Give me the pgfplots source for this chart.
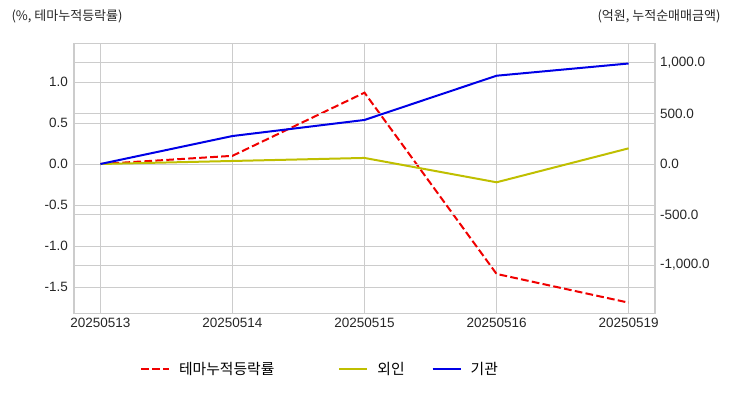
\documentclass[border=0pt]{standalone}
\usepackage{pgfplots}
\pgfplotsset{compat=1.18}
\usepackage{fontspec}
\setmainfont{Liberation Sans}
\newfontfamily\kr{Noto Sans CJK KR}
\definecolor{gridgray}{HTML}{CCCCCC}
\definecolor{myred}{HTML}{F00000}
\definecolor{myyellow}{HTML}{BFBF00}
\definecolor{myblue}{HTML}{0000E6}
\begin{document}
\begin{tikzpicture}
\useasboundingbox (0pt,0pt) rectangle (732pt,392pt);
\pgfplotsset{
  common/.style={
    at={(74pt,78.7pt)}, anchor=south west, scale only axis,
    width=581pt, height=269.6pt,
    xmin=-0.2, xmax=4.2,
    tick style={draw=none},
    major grid style={line width=1pt, color=gridgray},
    axis line style={color=gridgray, line width=1.5pt},
    tick label style={font=\fontsize{13.5}{16}\selectfont, color=black!85},
    /pgf/number format/assume math mode=true,
  }
}
\begin{axis}[common,
  ymin=-1.82, ymax=1.467,
  xtick={0,1,2,3,4},
  xticklabels={20250513,20250514,20250515,20250516,20250519},
  ytick={-1.5,-1.0,-0.5,0,0.5,1.0},
  grid=major,
  yticklabel style={inner sep=0pt, xshift=-6pt, /pgf/number format/.cd, fixed, fixed zerofill, precision=1},
  xticklabel style={inner sep=0pt, yshift=-5pt},
]
\addplot[myred, line width=2pt, dash pattern=on 7.7pt off 3.3pt] coordinates {(0,0) (1,0.1) (2,0.87) (3,-1.34) (4,-1.69)};
\end{axis}
\begin{axis}[common,
  ymin=-1478, ymax=1191,
  axis y line*=right, axis x line=none,
  ytick={-1000,-500,0,500,1000},
  ymajorgrids=true,
  yticklabel style={inner sep=0pt, xshift=5pt, /pgf/number format/.cd, fixed, fixed zerofill, precision=1, 1000 sep={,}},
  legend style={at={(0.4234,-0.2066)}, anchor=center, draw=none, fill=none,
    font=\kr\fontsize{14.8}{17}\selectfont,
    /tikz/every odd column/.append style={column sep=7pt},
    /tikz/every even column/.append style={column sep=25pt}},
  legend columns=3,
  legend cell align=left,
  legend image code/.code={\draw[#1] (0pt,0pt) -- (28pt,0pt);},
]
\addlegendimage{myred, line width=2pt, dash pattern=on 7.7pt off 3.3pt}
\addlegendentry{테마누적등락률\rule{37pt}{0pt}}
\addplot[myyellow, line width=2pt] coordinates {(0,0) (1,30) (2,60) (3,-181) (4,155)};
\addlegendentry{외인}
\addplot[myblue, line width=2pt] coordinates {(0,0) (1,277) (2,436) (3,874) (4,995)};
\addlegendentry{기관}
\end{axis}
\node[anchor=west, font=\kr\fontsize{13}{15}\selectfont, color=black!85] at (8pt,376pt) {(\%, 테마누적등락률)};
\node[anchor=east, font=\kr\fontsize{13}{15}\selectfont, color=black!85] at (724pt,376pt) {(억원, 누적순매매금액)};
\end{tikzpicture}
\end{document}
